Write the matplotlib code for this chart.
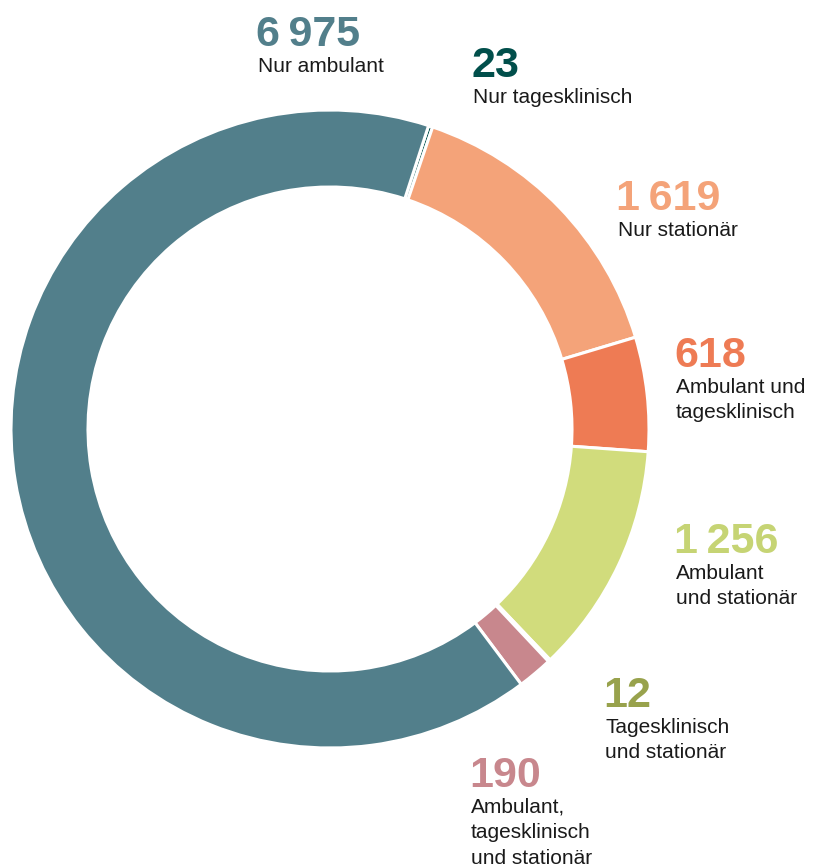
import matplotlib.pyplot as plt

plt.rcParams['font.family'] = ['Liberation Sans', 'DejaVu Sans']

categories = ['Nur tagesklinisch', 'Nur stationär', 'Ambulant und\ntagesklinisch',
              'Ambulant\nund stationär', 'Tagesklinisch\nund stationär',
              'Ambulant,\ntagesklinisch\nund stationär', 'Nur ambulant']
values = [23, 1619, 618, 1256, 12, 190, 6975]
colors = ['#014f4b', '#f4a379', '#ee7b54', '#d1dc7c', '#98a24c', '#c8878d', '#527f8b']
num_colors = ['#014f4b', '#f4a379', '#ee7b54', '#c6d474', '#98a24c', '#c8878d', '#527f8b']
# label anchors in pixels (x, baseline of the number)
label_pos = [(473, 77), (618, 210), (676, 367), (676, 553), (605, 707), (471, 787), (258, 46)]

W, H = 813, 868
fig = plt.figure(figsize=(W / 100, H / 100), dpi=100)
ax = fig.add_axes([0, 0, 1, 1])

R = 319
ax.pie(values, colors=colors, startangle=90 - 18, counterclock=False,
       center=(330, H - 429), radius=R, frame=True,
       wedgeprops=dict(width=77, edgecolor='white', linewidth=2.2))
ax.set_xlim(0, W)
ax.set_ylim(0, H)
ax.set_aspect('equal')
ax.axis('off')


def fmt(v):
    s = f'{v:,}'
    return s.replace(',', '\u2009')


for cat, v, c, (x, yb) in zip(categories, values, num_colors, label_pos):
    ax.text(x - 2, H - yb, fmt(v), color=c, fontsize=31, fontweight='bold',
            va='baseline', ha='left')
    for i, line in enumerate(cat.split('\n')):
        ax.text(x, H - (yb + 25.7 * (i + 1)), line, color='#1a1a1a', fontsize=15,
                va='baseline', ha='left')

fig.savefig('out.png', dpi=100)
